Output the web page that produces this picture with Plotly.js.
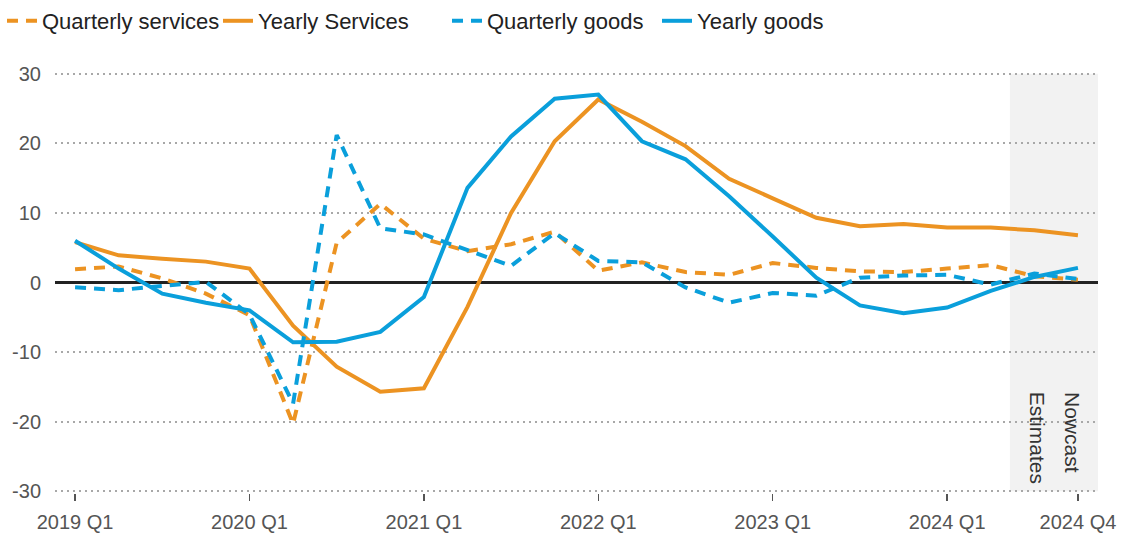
<!DOCTYPE html>
<html>
<head>
<meta charset="utf-8">
<script src="https://cdn.plot.ly/plotly-3.0.1.min.js"></script>
<style>
  html, body { margin: 0; padding: 0; background: #fff; }
  #chart { width: 1121px; height: 539px; }
</style>
</head>
<body>
<div id="chart"></div>
<script>
// Quarter index 0 = 2019 Q1 ... 23 = 2024 Q4
const quarters = ["2019 Q1","2019 Q2","2019 Q3","2019 Q4","2020 Q1","2020 Q2","2020 Q3","2020 Q4",
  "2021 Q1","2021 Q2","2021 Q3","2021 Q4","2022 Q1","2022 Q2","2022 Q3","2022 Q4",
  "2023 Q1","2023 Q2","2023 Q3","2023 Q4","2024 Q1","2024 Q2","2024 Q3","2024 Q4"];
const tickQuarters = ["2019 Q1","2020 Q1","2021 Q1","2022 Q1","2023 Q1","2024 Q1","2024 Q4"];
const yTicks = [-30, -20, -10, 0, 10, 20, 30];
const yTickLabels = ["-30", "-20", "-10", "0", "10", "20", "30"];

const quarterlyServices = [1.9, 2.3, 0.6, -1.6, -4.7, -20.3, 5.7, 11.3, 6.3, 4.5, 5.5, 7.3,
  1.7, 2.9, 1.5, 1.1, 2.8, 2.1, 1.6, 1.5, 2.0, 2.5, 0.9, 0.4];
const yearlyServices = [5.8, 3.9, 3.4, 3.0, 2.0, -6.2, -12.1, -15.7, -15.2, -3.5, 10.0, 20.3,
  26.3, 23.1, 19.6, 14.9, 12.1, 9.3, 8.1, 8.4, 7.9, 7.9, 7.5, 6.8];
const quarterlyGoods = [-0.7, -1.1, -0.5, 0.1, -4.6, -17.4, 21.2, 7.8, 6.9, 4.6, 2.4, 7.1,
  3.1, 2.9, -0.7, -2.9, -1.5, -1.9, 0.7, 1.0, 1.1, -0.3, 1.3, 0.5];
const yearlyGoods = [6.0, 2.0, -1.6, -2.9, -4.0, -8.6, -8.5, -7.1, -2.1, 13.6, 21.0, 26.4,
  27.0, 20.3, 17.7, 12.4, 6.6, 0.7, -3.3, -4.4, -3.6, -1.2, 0.8, 2.1];

const nowcastStart = "2024 Q3";
const nowcastLabels = ["Nowcast", "Estimates"];

const ORANGE = "#EC9322";
const BLUE = "#0A9FDB";
const FONT = "Liberation Sans, Arial, sans-serif";

const xIdx = quarters.map((q, i) => i);
const tickVals = tickQuarters.map(q => quarters.indexOf(q));

function trace(name, y, color, dashed, legendId) {
  return {
    type: "scatter", mode: "lines", name: name, legend: legendId,
    x: xIdx, y: y,
    line: { color: color, width: 4, dash: dashed ? "11px,8px" : "solid" },
    hoverinfo: "skip"
  };
}

const data = [
  trace("Quarterly services", quarterlyServices, ORANGE, true, "legend"),
  trace("Yearly Services", yearlyServices, ORANGE, false, "legend2"),
  trace("Quarterly goods", quarterlyGoods, BLUE, true, "legend3"),
  trace("Yearly goods", yearlyGoods, BLUE, false, "legend4")
];

function legendAt(px) {
  return {
    orientation: "h", xref: "container", yref: "container",
    x: px / 1121, y: 1, xanchor: "left", yanchor: "top",
    font: { size: 22, color: "#222", family: FONT }, itemwidth: 30,
    bgcolor: "rgba(0,0,0,0)"
  };
}

const ns = quarters.indexOf(nowcastStart);

const layout = {
  width: 1121, height: 539,
  margin: { l: 55, r: 23, t: 72, b: 46 },
  paper_bgcolor: "#fff", plot_bgcolor: "#fff",
  font: { family: FONT, color: "#333", size: 20 },
  showlegend: true,
  legend: legendAt(2),
  legend2: legendAt(218),
  legend3: legendAt(447),
  legend4: legendAt(657),
  xaxis: {
    range: [-0.46, 23.46],
    tickmode: "array", tickvals: tickVals, ticktext: tickQuarters,
    showgrid: false, zeroline: false, showline: false,
    ticks: "outside", ticklen: 7, tickwidth: 1.5, tickcolor: "#555",
    ticklabelstandoff: 4,
    tickfont: { size: 20, color: "#555" }
  },
  yaxis: {
    range: [-30.25, 30.25],
    tickmode: "array", tickvals: yTicks, ticktext: yTickLabels,
    showgrid: true, gridcolor: "#a8a8a8", gridwidth: 2, griddash: "2px,4px",
    zeroline: true, zerolinecolor: "#222", zerolinewidth: 2.5,
    showline: false, ticks: "outside", ticklen: 9, tickcolor: "rgba(0,0,0,0)",
    tickfont: { size: 20, color: "#555" }
  },
  shapes: [{
    type: "rect", xref: "x", yref: "y", layer: "below",
    x0: ns - 0.56, x1: 23.46, y0: -30, y1: 30,
    fillcolor: "#f2f2f2", line: { width: 0 }
  }],
  annotations: [
    { xref: "x", yref: "y", x: 22.89, y: -15.4, text: nowcastLabels[0], textangle: 90,
      showarrow: false, xanchor: "center", yanchor: "top", font: { size: 21, color: "#333" } },
    { xref: "x", yref: "y", x: 22.06, y: -15.4, text: nowcastLabels[1], textangle: 90,
      showarrow: false, xanchor: "center", yanchor: "top", font: { size: 21, color: "#333" } }
  ]
};

Plotly.newPlot("chart", data, layout, { staticPlot: true, displayModeBar: false });
</script>
</body>
</html>
